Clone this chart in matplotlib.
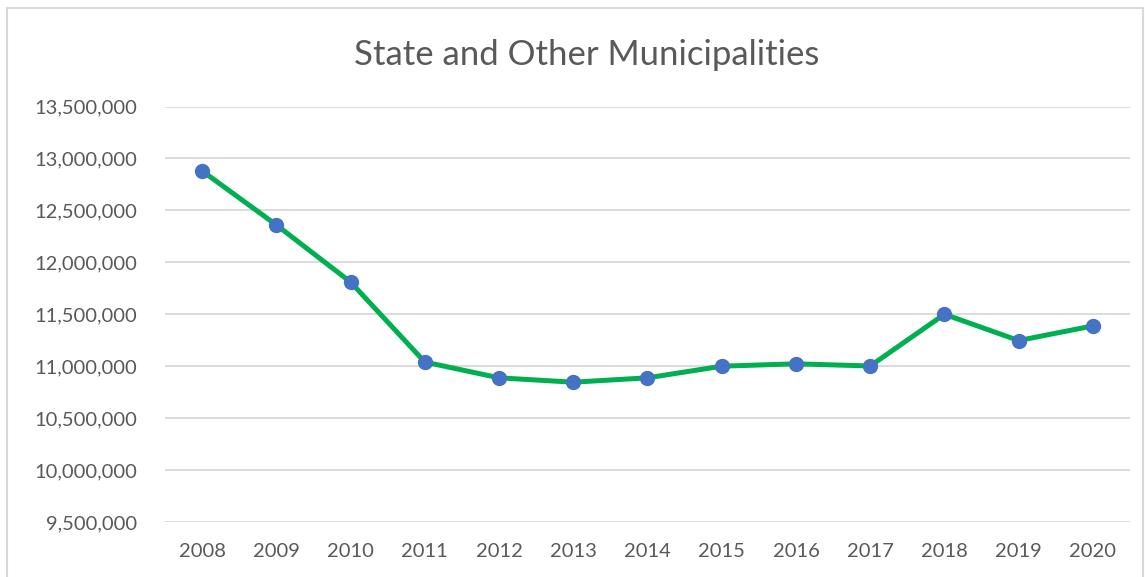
import matplotlib
matplotlib.use("Agg")
import matplotlib.pyplot as plt
from matplotlib.patches import Rectangle
from matplotlib.ticker import FuncFormatter, MultipleLocator

plt.rcParams["font.family"] = ["Lato", "DejaVu Sans"]

# Yearly totals for state and other municipalities
years = ["2008", "2009", "2010", "2011", "2012", "2013", "2014",
         "2015", "2016", "2017", "2018", "2019", "2020"]
totals = [12880000, 12360000, 11810000, 11040000, 10888000, 10846000, 10888000,
          11000000, 11023000, 11002000, 11500000, 11247000, 11388000]

text_color = "#595959"
grid_color = "#d9d9d9"

figure = plt.figure(figsize=(11.45, 5.77), dpi=100)
axis = figure.add_axes([0.1441, 0.0953, 0.8428, 0.7201])

positions = range(len(years))
axis.plot(positions, totals, color="#00b050", linewidth=3.6,
          marker="o", markersize=10, markerfacecolor="#4472c4",
          markeredgecolor="#4472c4", solid_joinstyle="round", zorder=3)

axis.set_xlim(-0.5, len(years) - 0.5)
axis.set_ylim(9500000, 13500000)
axis.set_xticks(list(positions))
axis.set_xticklabels(years)
axis.yaxis.set_major_locator(MultipleLocator(500000))
axis.yaxis.set_major_formatter(FuncFormatter(lambda value, _pos: f"{value:,.0f}"))

axis.grid(axis="y", color=grid_color, linewidth=1.3)
axis.set_axisbelow(True)
for spine in axis.spines.values():
    spine.set_visible(False)
axis.tick_params(axis="both", length=0, colors=text_color, labelsize=14.5)
axis.tick_params(axis="x", pad=15)
axis.tick_params(axis="y", pad=20)

figure.text(0.512, 0.905, "State and Other Municipalities", ha="center", va="center",
            fontsize=25, color=text_color)

# Light chart-area frame
figure.patches.append(Rectangle((0.006, -0.01), 0.992, 0.997, transform=figure.transFigure,
                                fill=False, edgecolor=grid_color, linewidth=1.5))

figure.savefig("out.png", dpi=100)
